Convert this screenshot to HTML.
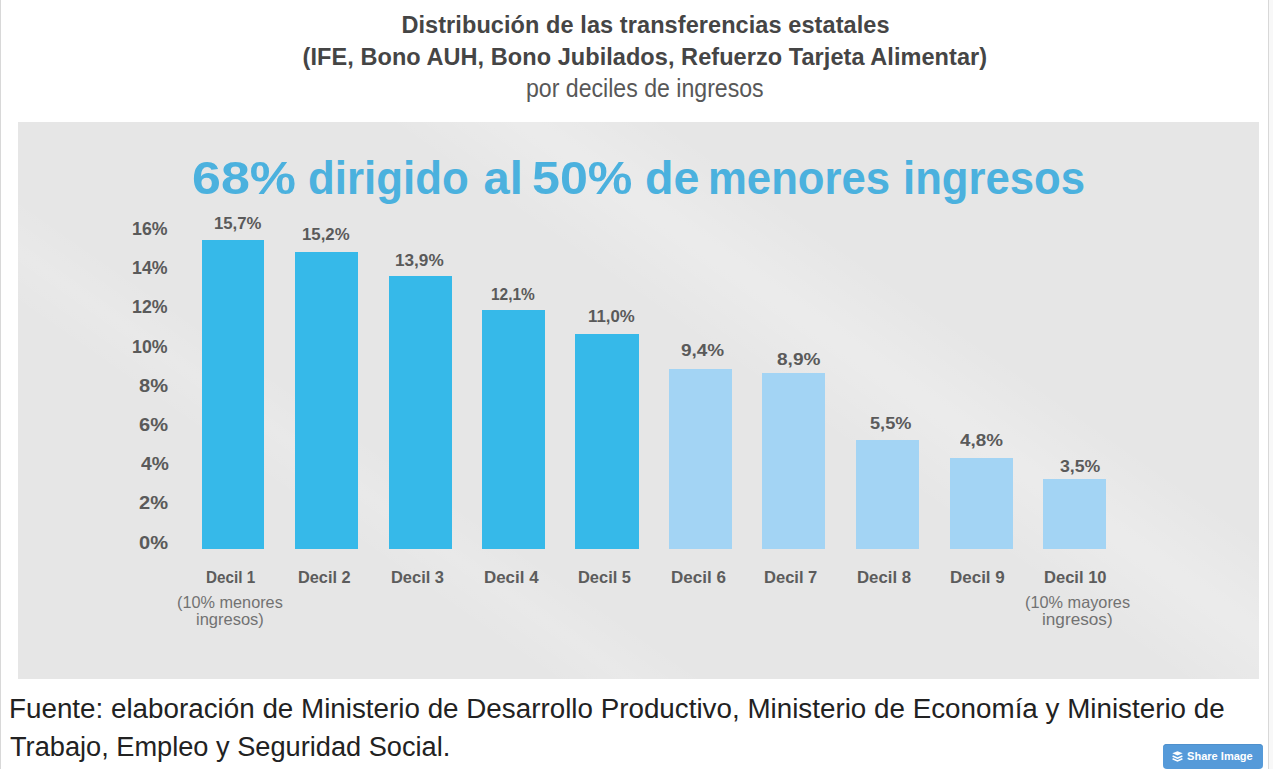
<!DOCTYPE html>
<html><head><meta charset="utf-8"><style>
html,body{margin:0;padding:0;}
body{width:1273px;height:769px;position:relative;overflow:hidden;background:#fff;font-family:"Liberation Sans",sans-serif;}
.t{position:absolute;white-space:nowrap;line-height:1;transform-origin:0 0;}
.bar{position:absolute;}
#lb{position:absolute;left:0;top:0;width:1px;height:769px;background:#d8d8d8;}
#rb{position:absolute;left:1268px;top:0;width:1px;height:769px;background:#d8d8d8;}
#rbg{position:absolute;left:1269px;top:0;width:4px;height:769px;background:#f8f8f8;}
#panel{position:absolute;left:18px;top:122px;width:1241px;height:557px;background:linear-gradient(35deg, rgba(255,255,255,0) 26%, rgba(255,255,255,0.12) 30%, rgba(255,255,255,0) 34%, rgba(255,255,255,0) 57%, rgba(255,255,255,0.22) 64%, rgba(255,255,255,0) 71%),#e6e6e6;}
#btn{position:absolute;left:1163px;top:744px;width:100px;height:25px;background:#559ad9;border-radius:4px;box-shadow:inset 0 1px 0 #4f90cc;}
</style></head><body>
<div id="lb"></div><div id="rb"></div><div id="rbg"></div>
<div id="panel"></div>
<div class="bar" style="left:202px;top:240px;width:62px;height:309px;background:#36b9e9"></div>
<div class="bar" style="left:295px;top:252px;width:63px;height:297px;background:#36b9e9"></div>
<div class="bar" style="left:389px;top:276px;width:63px;height:273px;background:#36b9e9"></div>
<div class="bar" style="left:482px;top:310px;width:63px;height:239px;background:#36b9e9"></div>
<div class="bar" style="left:575px;top:334px;width:64px;height:215px;background:#36b9e9"></div>
<div class="bar" style="left:669px;top:369px;width:63px;height:180px;background:#a3d4f4"></div>
<div class="bar" style="left:762px;top:373px;width:63px;height:176px;background:#a3d4f4"></div>
<div class="bar" style="left:856px;top:440px;width:63px;height:109px;background:#a3d4f4"></div>
<div class="bar" style="left:950px;top:458px;width:63px;height:91px;background:#a3d4f4"></div>
<div class="bar" style="left:1043px;top:479px;width:63px;height:70px;background:#a3d4f4"></div>

<div id="btn"><svg style="position:absolute;left:8.5px;top:6.5px" width="11" height="11" viewBox="0 0 11 11"><path d="M0.3 2.3 L5.5 0.2 L10.7 2.3 L5.5 4.6 Z" fill="#fff"/><path d="M0.6 5.0 L5.5 7.2 L10.4 5.0" stroke="#fff" stroke-width="1.5" fill="none"/><path d="M0.6 7.7 L5.5 9.9 L10.4 7.7" stroke="#fff" stroke-width="1.5" fill="none"/></svg></div>
<div class="t" style="left:401.40px;top:14.00px;font-size:23.5px;font-weight:700;color:#454545;letter-spacing:0.084px">Distribución de las transferencias estatales</div>
<div class="t" style="left:302.60px;top:46.00px;font-size:23.5px;font-weight:700;color:#454545;letter-spacing:0.066px">(IFE, Bono AUH, Bono Jubilados, Refuerzo Tarjeta Alimentar)</div>
<div class="t" style="left:526.35px;top:76.00px;font-size:25px;font-weight:400;color:#585858;transform:scaleX(0.9244)">por deciles de ingresos</div>
<div class="t" style="left:191.79px;top:154.00px;font-size:47px;font-weight:700;color:#4bb1de;transform:scaleX(1.1055)">68%</div>
<div class="t" style="left:307.53px;top:154.00px;font-size:47px;font-weight:700;color:#4bb1de;transform:scaleX(0.9325)">dirigido</div>
<div class="t" style="left:483.60px;top:154.00px;font-size:47px;font-weight:700;color:#4bb1de;transform:scaleX(1.0000)">al</div>
<div class="t" style="left:531.77px;top:154.00px;font-size:47px;font-weight:700;color:#4bb1de;transform:scaleX(1.0670)">50%</div>
<div class="t" style="left:644.62px;top:154.00px;font-size:47px;font-weight:700;color:#4bb1de;transform:scaleX(0.9922)">de</div>
<div class="t" style="left:708.21px;top:154.00px;font-size:47px;font-weight:700;color:#4bb1de;transform:scaleX(0.9293)">menores</div>
<div class="t" style="left:903.01px;top:154.00px;font-size:47px;font-weight:700;color:#4bb1de;transform:scaleX(0.9293)">ingresos</div>
<div class="t" style="left:132.49px;top:221.00px;font-size:17.5px;font-weight:700;color:#5a5a5a;transform:scaleX(1.0147)">16%</div>
<div class="t" style="left:132.49px;top:260.00px;font-size:17.5px;font-weight:700;color:#5a5a5a;transform:scaleX(1.0147)">14%</div>
<div class="t" style="left:132.49px;top:299.00px;font-size:17.5px;font-weight:700;color:#5a5a5a;transform:scaleX(1.0147)">12%</div>
<div class="t" style="left:132.49px;top:339.00px;font-size:17.5px;font-weight:700;color:#5a5a5a;transform:scaleX(1.0147)">10%</div>
<div class="t" style="left:139.35px;top:378.00px;font-size:17.5px;font-weight:700;color:#5a5a5a;transform:scaleX(1.1458)">8%</div>
<div class="t" style="left:139.35px;top:417.00px;font-size:17.5px;font-weight:700;color:#5a5a5a;transform:scaleX(1.1458)">6%</div>
<div class="t" style="left:140.50px;top:456.00px;font-size:17.5px;font-weight:700;color:#5a5a5a;transform:scaleX(1.1000)">4%</div>
<div class="t" style="left:139.35px;top:495.00px;font-size:17.5px;font-weight:700;color:#5a5a5a;transform:scaleX(1.1458)">2%</div>
<div class="t" style="left:139.35px;top:535.00px;font-size:17.5px;font-weight:700;color:#5a5a5a;transform:scaleX(1.1458)">0%</div>
<div class="t" style="left:213.84px;top:215.00px;font-size:17.4px;font-weight:700;color:#5a5a5a;transform:scaleX(0.9625)">15,7%</div>
<div class="t" style="left:302.14px;top:226.00px;font-size:17.4px;font-weight:700;color:#5a5a5a;transform:scaleX(0.9646)">15,2%</div>
<div class="t" style="left:395.21px;top:252.00px;font-size:17.4px;font-weight:700;color:#5a5a5a;transform:scaleX(0.9875)">13,9%</div>
<div class="t" style="left:490.81px;top:286.00px;font-size:17.4px;font-weight:700;color:#5a5a5a;transform:scaleX(0.8896)">12,1%</div>
<div class="t" style="left:587.53px;top:308.00px;font-size:17.4px;font-weight:700;color:#5a5a5a;transform:scaleX(0.9660)">11,0%</div>
<div class="t" style="left:681.31px;top:342.00px;font-size:17.4px;font-weight:700;color:#5a5a5a;transform:scaleX(1.0895)">9,4%</div>
<div class="t" style="left:776.50px;top:351.00px;font-size:17.4px;font-weight:700;color:#5a5a5a;transform:scaleX(1.0949)">8,9%</div>
<div class="t" style="left:870.06px;top:415.00px;font-size:17.4px;font-weight:700;color:#5a5a5a;transform:scaleX(1.0447)">5,5%</div>
<div class="t" style="left:959.80px;top:432.00px;font-size:17.4px;font-weight:700;color:#5a5a5a;transform:scaleX(1.0821)">4,8%</div>
<div class="t" style="left:1060.00px;top:458.00px;font-size:17.4px;font-weight:700;color:#5a5a5a;transform:scaleX(1.0179)">3,5%</div>
<div class="t" style="left:205.62px;top:569.00px;font-size:17.4px;font-weight:700;color:#5c5c5c;transform:scaleX(0.8764)">Decil 1</div>
<div class="t" style="left:297.86px;top:569.00px;font-size:17.4px;font-weight:700;color:#5c5c5c;transform:scaleX(0.9382)">Decil 2</div>
<div class="t" style="left:391.05px;top:569.00px;font-size:17.4px;font-weight:700;color:#5c5c5c;transform:scaleX(0.9455)">Decil 3</div>
<div class="t" style="left:483.73px;top:569.00px;font-size:17.4px;font-weight:700;color:#5c5c5c;transform:scaleX(0.9727)">Decil 4</div>
<div class="t" style="left:577.65px;top:569.00px;font-size:17.4px;font-weight:700;color:#5c5c5c;transform:scaleX(0.9455)">Decil 5</div>
<div class="t" style="left:670.62px;top:569.00px;font-size:17.4px;font-weight:700;color:#5c5c5c;transform:scaleX(0.9782)">Decil 6</div>
<div class="t" style="left:763.75px;top:569.00px;font-size:17.4px;font-weight:700;color:#5c5c5c;transform:scaleX(0.9509)">Decil 7</div>
<div class="t" style="left:857.04px;top:569.00px;font-size:17.4px;font-weight:700;color:#5c5c5c;transform:scaleX(0.9636)">Decil 8</div>
<div class="t" style="left:950.02px;top:569.00px;font-size:17.4px;font-weight:700;color:#5c5c5c;transform:scaleX(0.9764)">Decil 9</div>
<div class="t" style="left:1043.75px;top:569.00px;font-size:17.4px;font-weight:700;color:#5c5c5c;transform:scaleX(0.9516)">Decil 10</div>
<div class="t" style="left:176.51px;top:594.00px;font-size:16.5px;font-weight:400;color:#727272;transform:scaleX(0.9858)">(10% menores</div>
<div class="t" style="left:196.00px;top:611.00px;font-size:16.5px;font-weight:400;color:#727272;transform:scaleX(1.0000)">ingresos)</div>
<div class="t" style="left:1025.31px;top:594.00px;font-size:16.5px;font-weight:400;color:#727272;transform:scaleX(0.9876)">(10% mayores</div>
<div class="t" style="left:1041.76px;top:611.00px;font-size:16.5px;font-weight:400;color:#727272;transform:scaleX(1.0409)">ingresos)</div>
<div class="t" style="left:9.04px;top:694.00px;font-size:28.4px;font-weight:400;color:#222222;transform:scaleX(0.9789)">Fuente: elaboración de Ministerio de Desarrollo Productivo, Ministerio de Economía y Ministerio de</div>
<div class="t" style="left:10.04px;top:732.00px;font-size:28.4px;font-weight:400;color:#222222;transform:scaleX(0.9577)">Trabajo, Empleo y Seguridad Social.</div>
<div class="t" style="left:1187.00px;top:751.00px;font-size:10.5px;font-weight:700;color:#ffffff;transform:scaleX(1.0532)">Share Image</div>

</body></html>
